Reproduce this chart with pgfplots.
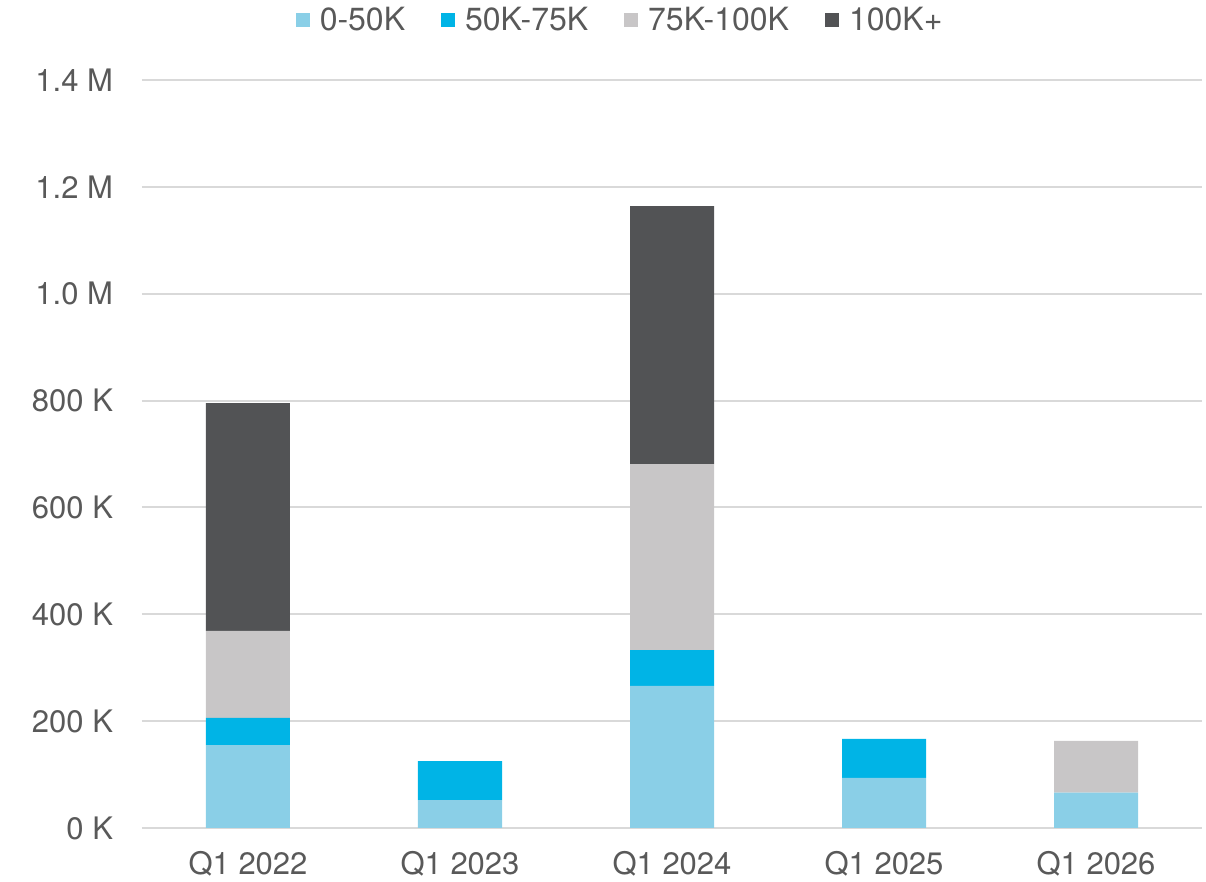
\documentclass[border=0pt]{standalone}
\usepackage{pgfplots}
\pgfplotsset{compat=1.18}
\usepackage{fontspec}
\setmainfont{TeX Gyre Heros}
\definecolor{cA}{HTML}{8ACFE7}
\definecolor{cB}{HTML}{00B4E6}
\definecolor{cC}{HTML}{C8C6C7}
\definecolor{cD}{HTML}{525355}
\definecolor{txt}{HTML}{595959}
\definecolor{gridc}{HTML}{D9D9D9}
\begin{document}
\begin{tikzpicture}
\begin{axis}[
  scale only axis,
  width=530pt, height=374pt,
  ybar stacked, bar width=42pt,
  xmin=-0.5, xmax=4.5,
  ymin=0, ymax=1400,
  xtick={0,1,2,3,4},
  xticklabels={Q1 2022,Q1 2023,Q1 2024,Q1 2025,Q1 2026},
  ytick={0,200,400,600,800,1000,1200,1400},
  yticklabels={0 K,200 K,400 K,600 K,800 K,1.0 M,1.2 M,1.4 M},
  axis line style={draw=none},
  ymajorgrids, major grid style={gridc, line width=1pt},
  tick style={draw=none},
  ticklabel style={font=\fontsize{15.5}{18}\selectfont, text=txt},
  yticklabel style={xshift=-11pt},
  xticklabel style={yshift=-8pt},
  legend style={at={(0.452,1.08)}, anchor=center, draw=none, legend columns=-1,
    font=\fontsize{16}{18}\selectfont, text=txt,
    /tikz/every odd column/.append style={column sep=3pt},
    /tikz/every even column/.append style={column sep=16pt}},
  legend image code/.code={\fill[#1] (0pt,-3.5pt) rectangle (7pt,3.5pt);},
  legend cell align=left,
]
\addplot[fill=cA, draw=none] coordinates {(0,155) (1,52) (2,266) (3,94) (4,66)};
\addplot[fill=cB, draw=none] coordinates {(0,51) (1,73) (2,67) (3,73) (4,0)};
\addplot[fill=cC, draw=none] coordinates {(0,163) (1,0) (2,348) (3,0) (4,97)};
\addplot[fill=cD, draw=none] coordinates {(0,426) (1,0) (2,483) (3,0) (4,0)};
\legend{0-50K,50K-75K,75K-100K,100K+}
\end{axis}
\pgfresetboundingbox
\path ([shift={(-71pt,-27pt)}]current axis.south west) rectangle ([shift={(2pt,40pt)}]current axis.north east);
\end{tikzpicture}
\end{document}
